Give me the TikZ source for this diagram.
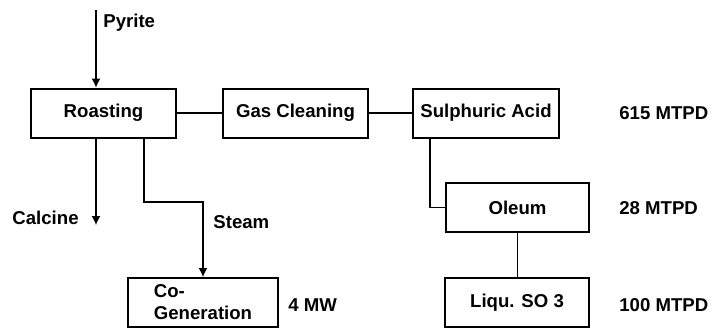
\documentclass[tikz,border=0pt]{standalone}
\usepackage{fontspec}
\setmainfont{Liberation Sans}
\usetikzlibrary{arrows.meta,calc}
\tikzset{%
  unit/.style = {shape=rectangle, draw, line width=1pt,%
                 minimum width=72.5pt, minimum height=24.5pt, inner sep=2pt},%
  flow/.style = {line width=0.6pt, -{Latex[length=4.5pt,width=4.5pt]}},%
  pipe/.style = {line width=0.6pt},%
  tag/.style  = {inner sep=0pt}%
}
\begin{document}
\begin{tikzpicture}
[x=0.5pt,y=-0.5pt,every node/.style = {font=\fontsize{9.3}{11}\selectfont\bfseries}]
	\useasboundingbox (0,0) rectangle (720,329);
	\node [unit] (roast) at (103.5,113) {Roasting};
	\node [unit] (gas) at (295.5,113) {Gas Cleaning};
	\node [unit, minimum width=73pt] (acid) at (486,113) {Sulphuric Acid};
	\node [unit, minimum width=71.5pt] (oleum) at (517.5,207.5) {Oleum};
	\node [unit, minimum width=72pt] (liquso) at (517,302.5) {Liqu. SO 3};
	\node [unit, minimum width=75pt, align=left] (cogen) at (203,302.5) {Co-\\Generation};
	% side labels
	\node [tag, anchor=west] (pyr) at (103,23) {Pyrite};
	\node [tag, anchor=east] (calc) at (79,218) {Calcine};
	\node [tag, anchor=west] (steam) at (213,222) {Steam};
	\node [tag, anchor=west] (r1) at (619,113) {615 MTPD};
	\node [tag, anchor=west] (r2) at (619,208) {28 MTPD};
	\node [tag, anchor=west] (r3) at (619,305) {100 MTPD};
	\node [tag, anchor=west] (r4) at (288,305) {4 MW};
	\coordinate (feed) at (96,10);
	\coordinate (calx) at (96,225);
	\coordinate (stbend) at (144,202);
	\coordinate (acx) at (430,0);
	\draw [flow] (feed) -- (feed |- roast.north);
	\draw [flow] (calx |- roast.south) -- (calx);
	\draw [flow] (stbend |- roast.south) -- (stbend) -| (cogen.north);
	\draw [pipe] (roast) -- (gas);
	\draw [pipe] (gas) -- (acid);
	\draw [pipe] (acx |- acid.south) |- (oleum.west);
	\draw [pipe] (oleum.south) -- (oleum.south |- liquso.north);
\end{tikzpicture}
\end{document}
